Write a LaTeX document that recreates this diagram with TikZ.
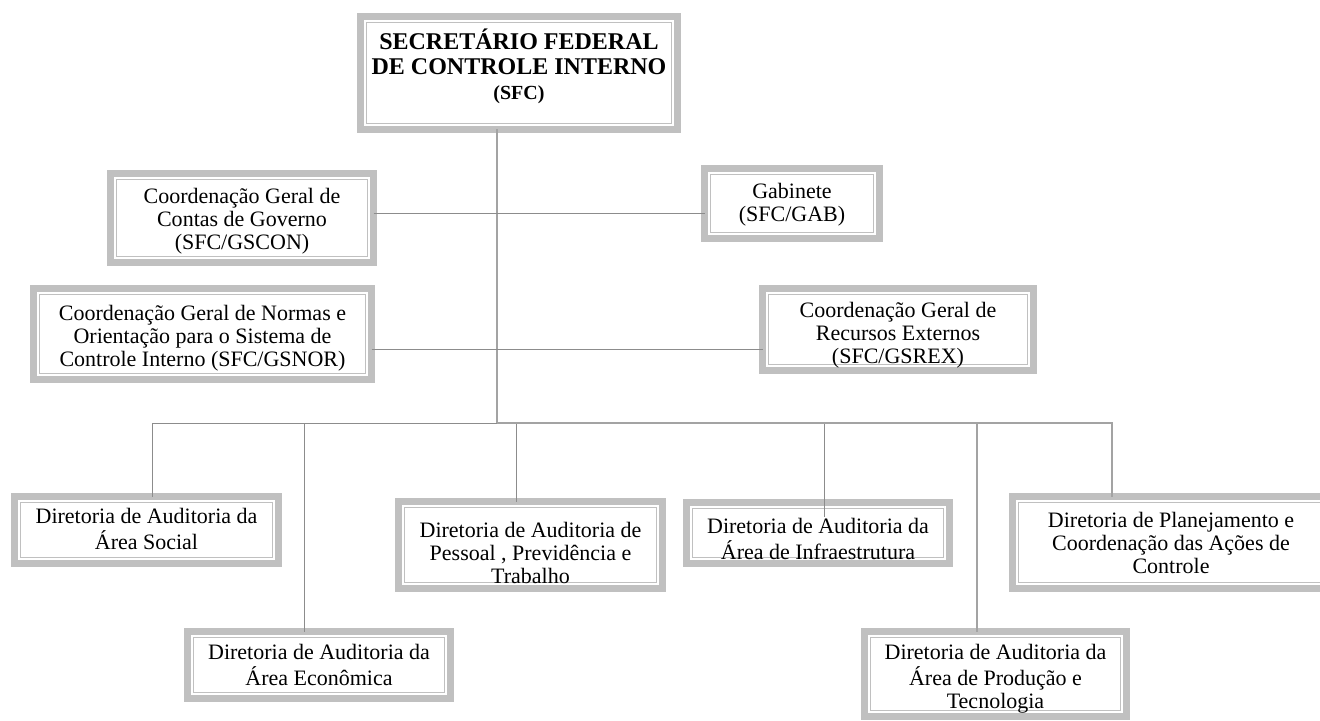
\documentclass[tikz,border=0pt]{standalone}
\usepackage{fontspec}
\setmainfont{Liberation Serif}
\usepackage{tikz}
\usetikzlibrary{positioning}

\definecolor{boxgray}{HTML}{C0C0C0}
\definecolor{linegray}{HTML}{8C8C8C}

% lines of a box, lowered by the optional amount
\newcommand{\unitlines}[2][-3.75pt]{\raisebox{#1}[0pt][0pt]{\begin{tabular}{@{}c@{}}#2\end{tabular}}}

\tikzset{
  unit/.style={draw=boxgray, line width=3.5pt, fill=white,
    font=\fontsize{11}{11.5}\selectfont, inner sep=0pt, outer sep=0pt,
    path picture={\draw[boxgray, line width=0.75pt]
      ([shift={(3pt,3pt)}]path picture bounding box.south west) rectangle
      ([shift={(-3pt,-3pt)}]path picture bounding box.north east);}},
  link/.style={draw=linegray, line width=0.5pt},
  trunk/.style={draw=boxgray!85!black, line width=0.75pt}
}

\begin{document}
\begin{tikzpicture}[x=0.5pt,y=-0.5pt]
  \fill[white] (0,0) rectangle (1320,721);
  \useasboundingbox (0,0) rectangle (1320,721);

  % top
  \node[unit, minimum width=158.5pt, minimum height=56.5pt,
        font=\bfseries\fontsize{12}{12.5}\selectfont] (sfc) at (519,73)
    {\unitlines[-0.5pt]{SECRETÁRIO FEDERAL\\DE CONTROLE INTERNO\\
     \fontsize{10}{12.5}\selectfont (SFC)}};

  % staff units
  \node[unit, minimum width=131.5pt, minimum height=44.5pt] (gscon) at (242,218)
    {\unitlines[-4.75pt]{Coordenação Geral de\\Contas de Governo\\(SFC/GSCON)}};
  \node[unit, minimum width=87.5pt, minimum height=35pt] (gab) at (792,203.5)
    {\unitlines{Gabinete\\(SFC/GAB)}};
  \node[unit, minimum width=169pt, minimum height=45.5pt] (gsnor) at (202.5,334)
    {\unitlines[-5.25pt]{Coordenação Geral de Normas e\\Orientação para o Sistema de\\Controle Interno (SFC/GSNOR)}};
  \node[unit, minimum width=135.5pt, minimum height=41pt] (gsrex) at (898,329.5)
    {\unitlines[-6pt]{Coordenação Geral de\\Recursos Externos\\(SFC/GSREX)}};

  % directorates
  \node[unit, minimum width=132pt, minimum height=33.5pt] (social) at (146.5,530)
    {\unitlines{Diretoria de Auditoria da\\Área Social}};
  \node[unit, minimum width=131.5pt, minimum height=33.5pt] (econ) at (319,665)
    {\unitlines[-4.25pt]{Diretoria de Auditoria da\\Área Econômica}};
  \node[unit, minimum width=132pt, minimum height=43.5pt] (pessoal) at (530.5,545)
    {\unitlines[-8.25pt]{Diretoria de Auditoria de\\Pessoal , Previdência e\\Trabalho}};
  \node[unit, minimum width=131.5pt, minimum height=30.5pt] (infra) at (818,533)
    {\unitlines[-7.25pt]{Diretoria de Auditoria da\\Área de Infraestrutura}};
  \node[unit, minimum width=131pt, minimum height=42.5pt] (prod) at (995.5,674)
    {\unitlines[-5.25pt]{Diretoria de Auditoria da\\Área de Produção e\\Tecnologia}};
  \node[unit, minimum width=158.5pt, minimum height=46pt] (plan) at (1171,542.5)
    {\unitlines[-4.5pt]{Diretoria de Planejamento e\\Coordenação das Ações de\\Controle}};

  % connectors
  \coordinate (hub) at (497,423);
  \draw[trunk] (sfc.south -| hub) -- (hub);
  \draw[link] ([shift={(0,-4)}]gscon.east) coordinate (con) -- (con -| gab.west);
  \draw[link] ([shift={(0,15)}]gsnor.east) coordinate (nor) -- (nor -| gsrex.west);
  \draw[link] ([shift={(5.5,0)}]social.north) |- (hub);
  \draw[link] ([shift={(-15,0)}]econ.north) |- (hub);
  \draw[link] ([shift={(-14.5,0)}]pessoal.north) |- (hub);
  \draw[link] ([shift={(6,14)}]infra.north) |- (hub);
  \draw[trunk] ([shift={(-18.5,0)}]prod.north) |- (hub);
  \draw[trunk] ([shift={(-59,0)}]plan.north) |- (hub);
\end{tikzpicture}
\end{document}
